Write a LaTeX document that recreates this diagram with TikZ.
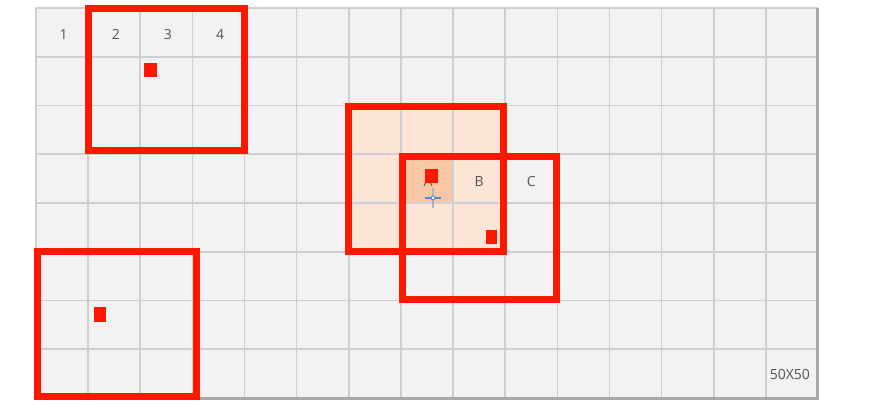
\documentclass[tikz,border=0pt]{standalone}
\usepackage{fontspec}
\setmainfont{Open Sans}
\definecolor{cellgray}{HTML}{F2F2F2}
\definecolor{linegray}{HTML}{CFCFCF}
\definecolor{edgegray}{HTML}{A8A8A8}
\definecolor{markred}{RGB}{255,24,0}
\definecolor{peach}{HTML}{FCE4D6}
\definecolor{peachdark}{HTML}{F8C8A6}
\definecolor{labelgray}{HTML}{555555}
\definecolor{cursorblue}{HTML}{3C8CE6}
\tikzset{
  lbl/.style={text=labelgray,font=\fontsize{14}{16}\selectfont,inner sep=0pt},
  dot/.style={fill=markred,inner sep=0pt,minimum width=13pt,minimum height=14pt},
  win/.style={draw=markred,line width=7pt}
}
\begin{document}
\begin{tikzpicture}[x=52.13pt,y=-48.75pt]
  \useasboundingbox (-36pt,8pt) rectangle (855pt,-411pt);
  \fill[cellgray] (0,0) rectangle (15,8);
  \fill[peach] (6,2) rectangle (9,5);
  \fill[peachdark] (7,3) rectangle (8,4);
  \begin{scope}[linegray,line width=1.6pt]
    \foreach \i in {0,...,15} \draw (\i,0) -- (\i,8);
    \foreach \j in {0,...,8} \draw (0,\j) -- (15,\j);
  \end{scope}
  \draw[edgegray,line width=3pt] (0,8) -- (15,8) -- (15,0);
  \draw
    (0.53,0.55) node[lbl] (n1){1}
    (1.53,0.55) node[lbl] (n2){2}
    (2.53,0.55) node[lbl] (n3){3}
    (3.53,0.55) node[lbl] (n4){4}
    (7.52,3.55) node[lbl] (a){A}
    (8.5,3.55) node[lbl] (b){B}
    (9.5,3.55) node[lbl] (c){C}
    (14.46,7.51) node[lbl] (size){50X50};
  \draw
    (2.187,1.272) node[dot] (d1){}
    (1.228,6.287) node[dot,minimum width=12pt,minimum height=15pt] (d2){}
    (7.587,3.446) node[dot] (d3){}
    (8.738,4.697) node[dot,minimum width=11pt] (d4){};
  \draw[win] (1,0.01) rectangle (4,2.92);
  \draw[win] (0.03,5) rectangle (3.08,7.97);
  \draw[win] (6,2.02) rectangle (8.97,5);
  \draw[win] (7.03,3.05) rectangle (9.99,5.98);
  \coordinate (cur) at (7.616,3.897);
  \draw[gray!60,line width=1.2pt] ([yshift=10pt]cur) -- ([yshift=-10pt]cur);
  \draw[cursorblue,line width=1.2pt] ([xshift=-8pt]cur) -- ([xshift=8pt]cur);
  \draw[cursorblue,line width=0.8pt,fill=white] (cur) circle (2pt);
\end{tikzpicture}
\end{document}
